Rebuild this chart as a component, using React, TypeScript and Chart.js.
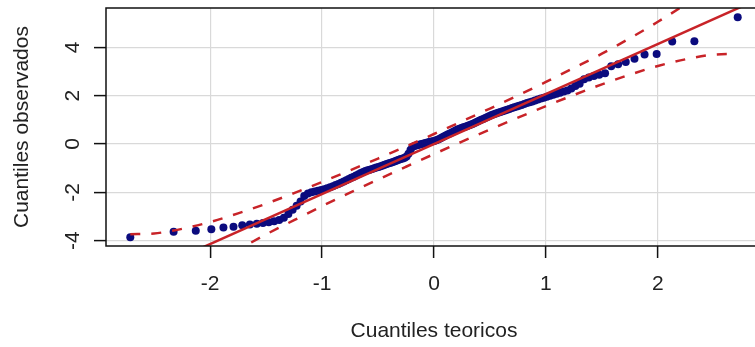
import { useEffect, useRef } from 'react';
import { Chart, registerables } from 'chart.js';

Chart.register(...registerables);

// Theoretical normal quantiles (x) and observed sorted values (y), n = 150
const THEO_X = [
  -2.713, -2.326, -2.128, -1.989, -1.881, -1.791, -1.713, -1.645, -1.583, -1.528,
  -1.476, -1.428, -1.383, -1.341, -1.301, -1.263, -1.227, -1.192, -1.159, -1.126,
  -1.095, -1.065, -1.036, -1.008, -0.981, -0.954, -0.928, -0.903, -0.878, -0.854,
  -0.830, -0.806, -0.783, -0.761, -0.739, -0.717, -0.696, -0.674, -0.654, -0.633,
  -0.613, -0.593, -0.573, -0.553, -0.534, -0.515, -0.496, -0.477, -0.458, -0.440,
  -0.422, -0.403, -0.385, -0.367, -0.349, -0.332, -0.314, -0.297, -0.279, -0.262,
  -0.245, -0.228, -0.210, -0.193, -0.176, -0.159, -0.143, -0.126, -0.109, -0.092,
  -0.075, -0.059, -0.042, -0.025, -0.008,
  0.008, 0.025, 0.042, 0.059, 0.075, 0.092, 0.109, 0.126, 0.143, 0.159,
  0.176, 0.193, 0.210, 0.228, 0.245, 0.262, 0.279, 0.297, 0.314, 0.332,
  0.349, 0.367, 0.385, 0.403, 0.422, 0.440, 0.458, 0.477, 0.496, 0.515,
  0.534, 0.553, 0.573, 0.593, 0.613, 0.633, 0.654, 0.674, 0.696, 0.717,
  0.739, 0.761, 0.783, 0.806, 0.830, 0.854, 0.878, 0.903, 0.928, 0.954,
  0.981, 1.008, 1.036, 1.065, 1.095, 1.126, 1.159, 1.192, 1.227, 1.263,
  1.301, 1.341, 1.383, 1.428, 1.476, 1.528, 1.583, 1.645, 1.713, 1.791,
  1.881, 1.989, 2.128, 2.326, 2.713,
];

const OBS_Y = [
  -3.86, -3.63, -3.59, -3.53, -3.45, -3.42, -3.36, -3.33, -3.30, -3.27,
  -3.24, -3.20, -3.14, -3.05, -2.90, -2.72, -2.55, -2.38, -2.15, -2.05,
  -2.00, -1.96, -1.93, -1.90, -1.87, -1.83, -1.79, -1.75, -1.70, -1.65,
  -1.60, -1.55, -1.50, -1.45, -1.40, -1.35, -1.30, -1.25, -1.20, -1.16,
  -1.12, -1.09, -1.06, -1.03, -1.00, -0.97, -0.95, -0.92, -0.89, -0.86,
  -0.83, -0.80, -0.77, -0.74, -0.71, -0.68, -0.65, -0.62, -0.60, -0.57,
  -0.52, -0.40, -0.25, -0.12, -0.08, -0.06, -0.04, -0.02, 0.00, 0.02,
  0.04, 0.06, 0.08, 0.10, 0.12,
  0.14, 0.17, 0.20, 0.24, 0.28, 0.32, 0.36, 0.40, 0.44, 0.48,
  0.52, 0.56, 0.60, 0.63, 0.66, 0.69, 0.72, 0.75, 0.78, 0.81,
  0.84, 0.88, 0.92, 0.96, 1.00, 1.04, 1.08, 1.12, 1.16, 1.20,
  1.23, 1.26, 1.29, 1.33, 1.36, 1.39, 1.42, 1.45, 1.49, 1.52,
  1.55, 1.58, 1.62, 1.66, 1.70, 1.73, 1.76, 1.80, 1.84, 1.88,
  1.92, 1.96, 2.00, 2.04, 2.08, 2.12, 2.17, 2.22, 2.30, 2.40,
  2.50, 2.68, 2.75, 2.82, 2.87, 2.93, 3.22, 3.30, 3.40, 3.53,
  3.71, 3.73, 4.24, 4.25, 5.25,
];

// Reference line
const REF_X = [-3, 3];
const REF_Y = [-6.21, 6.21];

// Confidence envelope
const ENV_X = [-2.713, -2.5, -2.25, -2, -1.75, -1.5, -1.25, -1, -0.75, -0.5, -0.25, 0,
  0.25, 0.5, 0.75, 1, 1.25, 1.5, 1.75, 2, 2.25, 2.5, 2.713];
const ENV_UPPER = [-3.73, -3.70, -3.51, -3.23, -2.87, -2.47, -2.03, -1.57, -1.09, -0.60, -0.10, 0.415,
  0.94, 1.47, 2.01, 2.57, 3.15, 3.74, 4.38, 5.06, 5.80, 6.66, 7.51];
const ENV_LOWER = [-7.51, -6.66, -5.80, -5.06, -4.38, -3.74, -3.15, -2.57, -2.01, -1.47, -0.94, -0.415,
  0.10, 0.60, 1.09, 1.57, 2.03, 2.47, 2.87, 3.23, 3.51, 3.70, 3.73];

const X_TICKS = [-2, -1, 0, 1, 2];
const Y_TICKS = [-4, -2, 0, 2, 4];
const X_TITLE = 'Cuantiles teoricos';
const Y_TITLE = 'Cuantiles observados';

const FONT = '"Liberation Sans", Arial, sans-serif';
const RED = 'rgb(200, 35, 40)';
const NAVY = '#0b0b7e';
const W = 780;
const H = 347;

const axisText = {
  id: 'axisText',
  afterDraw(chart: any) {
    const { ctx, chartArea: a, scales } = chart;
    const xs = scales.x;
    const ys = scales.y;
    ctx.save();
    ctx.strokeStyle = '#111';
    ctx.lineWidth = 1.5;
    ctx.strokeRect(a.left, a.top, a.right - a.left, a.bottom - a.top);
    ctx.fillStyle = '#222';
    ctx.font = `21px ${FONT}`;
    ctx.textAlign = 'center';
    ctx.textBaseline = 'middle';
    X_TICKS.forEach((v) => ctx.fillText(String(v), xs.getPixelForValue(v), 284));
    Y_TICKS.forEach((v) => {
      ctx.save();
      ctx.translate(73, ys.getPixelForValue(v));
      ctx.rotate(-Math.PI / 2);
      ctx.fillText(String(v), 0, 0);
      ctx.restore();
    });
    ctx.fillText(X_TITLE, (a.left + a.right) / 2, 331);
    ctx.save();
    ctx.translate(22, (a.top + a.bottom) / 2);
    ctx.rotate(-Math.PI / 2);
    ctx.fillText(Y_TITLE, 0, 0);
    ctx.restore();
    ctx.restore();
  },
};

export default function App() {
  const ref = useRef<HTMLCanvasElement>(null);
  useEffect(() => {
    if (!ref.current) return;
    const gridOpts = {
      color: '#d9d9d9',
      lineWidth: 1.2,
      drawTicks: true,
      tickLength: 12,
      tickColor: '#111',
      tickWidth: 1.5,
    };
    const chart = new Chart(ref.current, {
      type: 'scatter',
      data: {
        datasets: [
          {
            data: REF_X.map((x, i) => ({ x, y: REF_Y[i] })),
            showLine: true,
            borderColor: RED,
            borderWidth: 2.5,
            pointRadius: 0,
            order: 1,
          } as any,
          {
            data: ENV_X.map((x, i) => ({ x, y: ENV_UPPER[i] })),
            showLine: true,
            borderColor: RED,
            borderWidth: 2.5,
            borderDash: [10, 11],
            pointRadius: 0,
            cubicInterpolationMode: 'monotone',
            order: 1,
          },
          {
            data: ENV_X.map((x, i) => ({ x, y: ENV_LOWER[i] })),
            showLine: true,
            borderColor: RED,
            borderWidth: 2.5,
            borderDash: [10, 11],
            pointRadius: 0,
            cubicInterpolationMode: 'monotone',
            order: 1,
          },
          {
            data: THEO_X.map((x, i) => ({ x, y: OBS_Y[i] })),
            pointRadius: 4,
            pointBackgroundColor: NAVY,
            pointBorderWidth: 0,
            order: 2,
          },
        ],
      },
      options: {
        responsive: false,
        animation: false,
        events: [],
        layout: { padding: { left: 0, top: 8, right: 18, bottom: 0 } },
        plugins: { legend: { display: false }, tooltip: { enabled: false } },
        scales: {
          x: {
            type: 'linear',
            min: -2.93,
            max: 2.93,
            afterBuildTicks: (s: any) => {
              s.ticks = X_TICKS.map((v) => ({ value: v }));
            },
            afterFit: (s: any) => {
              s.height = 101;
            },
            ticks: { display: false },
            grid: gridOpts,
            border: { display: false },
          },
          y: {
            type: 'linear',
            min: -4.22,
            max: 5.63,
            afterBuildTicks: (s: any) => {
              s.ticks = Y_TICKS.map((v) => ({ value: v }));
            },
            afterFit: (s: any) => {
              s.width = 106;
            },
            ticks: { display: false },
            grid: gridOpts,
            border: { display: false },
          },
        },
      },
      plugins: [axisText],
    });
    return () => chart.destroy();
  }, []);
  return (
    <div
      style={{
        position: 'absolute',
        left: 0,
        top: 0,
        width: 755,
        height: 347,
        overflow: 'hidden',
        background: '#fff',
      }}
    >
      <canvas ref={ref} width={W} height={H} style={{ width: W, height: H, display: 'block' }} />
    </div>
  );
}
